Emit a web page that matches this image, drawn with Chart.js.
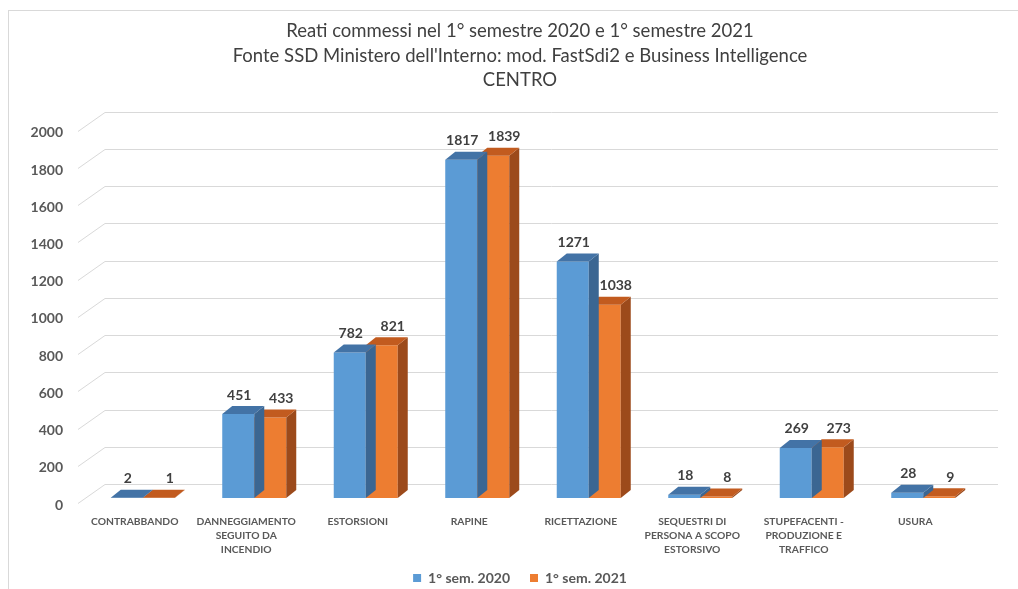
<!DOCTYPE html>
<html>
<head>
<meta charset="utf-8">
<title>Reati commessi - CENTRO</title>
<script src="https://cdn.jsdelivr.net/npm/chart.js@4.4.1/dist/chart.umd.min.js"></script>
<style>
  html, body { margin: 0; padding: 0; background: #ffffff; }
  #wrap { width: 1018px; height: 589px; }
</style>
</head>
<body>
<div id="wrap"><canvas id="reatiChart" width="1018" height="589"></canvas></div>
<script>
// Categorie di reato (etichette su più righe come nel grafico Excel)
const categorie = [
  ['CONTRABBANDO'],
  ['DANNEGGIAMENTO', 'SEGUITO DA', 'INCENDIO'],
  ['ESTORSIONI'],
  ['RAPINE'],
  ['RICETTAZIONE'],
  ['SEQUESTRI DI', 'PERSONA A SCOPO', 'ESTORSIVO'],
  ['STUPEFACENTI -', 'PRODUZIONE E', 'TRAFFICO'],
  ['USURA']
];
const sem2020 = [2, 451, 782, 1817, 1271, 18, 269, 28];
const sem2021 = [1, 433, 821, 1839, 1038, 8, 273, 9];
const serie = ['1° sem. 2020', '1° sem. 2021'];
const titolo = [
  'Reati commessi nel 1° semestre 2020 e 1° semestre 2021',
  "Fonte SSD Ministero dell'Interno: mod. FastSdi2 e Business Intelligence",
  'CENTRO'
];

const FONT = 'Lato, "Open Sans", sans-serif';

// colori: frontale, faccia superiore, fianco
const colori = [
  { front: '#5B9BD5', top: '#4373A6', side: '#3B6692' },
  { front: '#ED7D31', top: '#C25B1F', side: '#9C4A1B' }
];

// profondità delle barre e del pavimento (effetto 3D)
const BAR_DX = 10, BAR_DY = -8;
const WALL_DX = 18, WALL_DY = -14;   // dal piano delle barre alla parete di fondo
const EDGE_DX = -9, EDGE_DY = 5;     // dal piano delle barre al bordo anteriore
const LABEL_SHIFT = [1, 11];
const LEGEND_TOP = 551;

const finto3d = {
  id: 'finto3d',
  afterLayout(chart) {
    // la legenda sta più in basso di quanto il layout le concede
    const lg = chart.legend;
    const d = LEGEND_TOP - lg.top;
    lg.top += d;
    lg.bottom += d;
  },
  beforeDraw(chart) {
    const ctx = chart.ctx;
    ctx.save();
    ctx.fillStyle = '#ffffff';
    ctx.fillRect(0, 0, chart.width, chart.height);
    ctx.strokeStyle = '#D9D9D9';
    ctx.lineWidth = 1;
    ctx.strokeRect(8.5, 10.5, chart.width + 40, chart.height + 40);
    ctx.restore();
  },
  beforeDatasetsDraw(chart) {
    const { ctx, chartArea, scales } = chart;
    const y = scales.y;
    ctx.save();
    ctx.strokeStyle = '#D9D9D9';
    ctx.lineWidth = 1;
    y.ticks.forEach(t => {
      const py = Math.round(y.getPixelForValue(t.value)) + 0.5;
      ctx.beginPath();
      ctx.moveTo(chartArea.left + EDGE_DX, py + EDGE_DY);
      ctx.lineTo(chartArea.left + WALL_DX, py + WALL_DY);
      ctx.lineTo(chartArea.right + WALL_DX + 1, py + WALL_DY);
      ctx.stroke();
    });
    ctx.restore();
  },
  afterDatasetDraw(chart, args) {
    const ctx = chart.ctx;
    const c = colori[args.index];
    ctx.save();
    args.meta.data.forEach(bar => {
      const { x, y, base, width } = bar.getProps(['x', 'y', 'base', 'width'], true);
      const l = x - width / 2, r = x + width / 2;
      // fianco destro
      ctx.fillStyle = c.side;
      ctx.beginPath();
      ctx.moveTo(r, y);
      ctx.lineTo(r + BAR_DX, y + BAR_DY);
      ctx.lineTo(r + BAR_DX, base + BAR_DY);
      ctx.lineTo(r, base);
      ctx.closePath();
      ctx.fill();
      // faccia superiore
      ctx.fillStyle = c.top;
      ctx.beginPath();
      ctx.moveTo(l, y);
      ctx.lineTo(r, y);
      ctx.lineTo(r + BAR_DX, y + BAR_DY);
      ctx.lineTo(l + BAR_DX, y + BAR_DY);
      ctx.closePath();
      ctx.fill();
    });
    ctx.restore();
  },
  afterDatasetsDraw(chart) {
    const ctx = chart.ctx;
    ctx.save();
    ctx.font = 'bold 14px ' + FONT;
    ctx.fillStyle = '#404040';
    ctx.textAlign = 'center';
    ctx.textBaseline = 'middle';
    chart.data.datasets.forEach((ds, i) => {
      chart.getDatasetMeta(i).data.forEach((bar, j) => {
        const { x, y } = bar.getProps(['x', 'y'], true);
        ctx.fillText(String(ds.data[j]), x + LABEL_SHIFT[i], y - 19);
      });
    });
    ctx.restore();
  }
};

new Chart(document.getElementById('reatiChart'), {
  type: 'bar',
  data: {
    labels: categorie,
    datasets: [
      { label: serie[0], data: sem2020, backgroundColor: colori[0].front, borderWidth: 0 },
      { label: serie[1], data: sem2021, backgroundColor: colori[1].front, borderWidth: 0 }
    ]
  },
  options: {
    responsive: false,
    animation: false,
    layout: { padding: { left: 18, right: -4, top: 0, bottom: -13 } },
    datasets: { bar: { categoryPercentage: 0.574, barPercentage: 1.0 } },
    scales: {
      x: {
        grid: { display: false, drawTicks: false },
        border: { display: false },
        ticks: {
          color: '#595959',
          font: { family: FONT, size: 10.3, weight: 'bold', lineHeight: 1.4 },
          padding: 16,
          labelOffset: -8,
          maxRotation: 0,
          autoSkip: false
        },
        afterFit(s) { s.height = 60; }
      },
      y: {
        min: 0,
        max: 2000,
        grid: { display: false, drawTicks: false },
        border: { display: false },
        ticks: {
          stepSize: 200,
          color: '#595959',
          font: { family: FONT, size: 14, weight: 'bold' },
          padding: 24,
          labelOffset: 7,
          callback: v => String(v)
        },
        afterFit(s) { s.width = 69; }
      },
      y2: {
        position: 'right',
        display: true,
        grid: { display: false, drawTicks: false },
        border: { display: false },
        ticks: { display: false },
        afterFit(s) { s.width = 43; }
      }
    },
    plugins: {
      title: {
        display: true,
        text: titolo,
        color: '#404040',
        font: { family: FONT, size: 18.5, weight: 'normal', lineHeight: 1.33 },
        padding: { top: 19, bottom: 33 }
      },
      legend: {
        position: 'bottom',
        labels: {
          color: '#595959',
          font: { family: FONT, size: 14, weight: 'bold' },
          boxWidth: 8,
          boxHeight: 8,
          padding: 20
        }
      },
      tooltip: { enabled: false }
    }
  },
  plugins: [finto3d]
});
</script>
</body>
</html>
